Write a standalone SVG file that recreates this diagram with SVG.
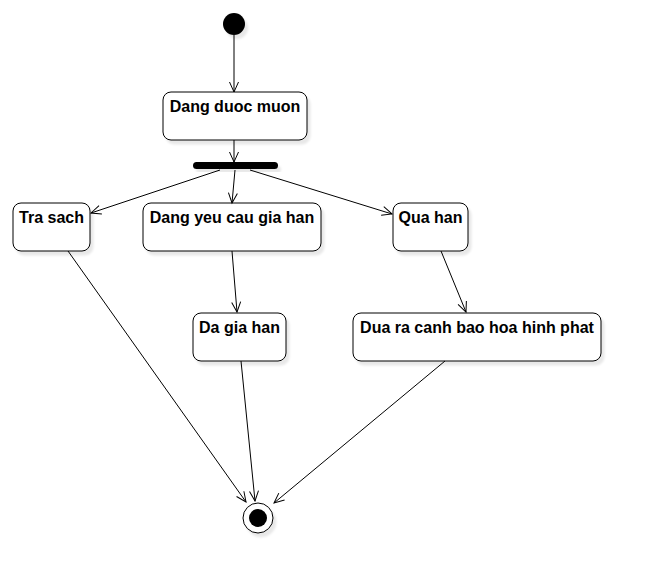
<svg xmlns="http://www.w3.org/2000/svg" width="650" height="583" viewBox="0 0 650 583">
<style>
.node rect.box{fill:#fff;stroke:#000;stroke-width:1}
.lbl{font-family:"Liberation Sans",Arial,sans-serif;font-size:16px;font-weight:bold;fill:#000;text-anchor:middle}
.edge{fill:none;stroke:#000;stroke-width:1}
</style>
<defs>
<filter id="sh" x="-20%" y="-20%" width="150%" height="150%">
<feDropShadow dx="3" dy="4" stdDeviation="0.8" flood-color="#000" flood-opacity="0.09"/>
</filter>
<marker id="arr" markerUnits="userSpaceOnUse" markerWidth="14" markerHeight="14" viewBox="-12 -7 14 14" refX="0" refY="0" orient="auto">
<path d="M-10,-4.5 L0,0 L-10,4.5" fill="none" stroke="#000" stroke-width="1"/>
</marker>
</defs>
<rect width="650" height="583" fill="#fff"/>
<g id="start" class="node"><circle cx="234" cy="24" r="11" fill="#000" filter="url(#sh)"/></g>
<g id="dang-duoc-muon" class="node"><rect class="box" x="163" y="92" width="144" height="48" rx="8" filter="url(#sh)"/><text class="lbl" x="235" y="112">Dang duoc muon</text></g>
<g id="fork" class="node"><rect x="193" y="162" width="85" height="7" rx="3.5" fill="#000" filter="url(#sh)"/></g>
<g id="tra-sach" class="node"><rect class="box" x="13" y="203" width="77" height="48" rx="8" filter="url(#sh)"/><text class="lbl" x="51.5" y="223">Tra sach</text></g>
<g id="dang-yeu-cau" class="node"><rect class="box" x="143" y="203" width="178" height="48" rx="8" filter="url(#sh)"/><text class="lbl" x="232" y="223">Dang yeu cau gia han</text></g>
<g id="qua-han" class="node"><rect class="box" x="393" y="203" width="75" height="48" rx="8" filter="url(#sh)"/><text class="lbl" x="430.5" y="223">Qua han</text></g>
<g id="da-gia-han" class="node"><rect class="box" x="193" y="313" width="93" height="48" rx="8" filter="url(#sh)"/><text class="lbl" x="239.5" y="333">Da gia han</text></g>
<g id="dua-ra" class="node"><rect class="box" x="353" y="313" width="248" height="48" rx="8" filter="url(#sh)"/><text class="lbl" x="477" y="333">Dua ra canh bao hoa hinh phat</text></g>
<g id="end" class="node"><circle cx="258" cy="518" r="15" fill="#fff" stroke="#000" stroke-width="1" filter="url(#sh)"/><circle cx="258" cy="518" r="9" fill="#000"/></g>
<g id="connectors">
<path class="edge" d="M234,35 L234,92" marker-end="url(#arr)"/>
<path class="edge" d="M234,140 L234,162" marker-end="url(#arr)"/>
<path class="edge" d="M220,170 L91,213" marker-end="url(#arr)"/>
<path class="edge" d="M235,170 L232,203" marker-end="url(#arr)"/>
<path class="edge" d="M250,170 L392,214" marker-end="url(#arr)"/>
<path class="edge" d="M232,251 L237,312" marker-end="url(#arr)"/>
<path class="edge" d="M441,251 L466,312" marker-end="url(#arr)"/>
<path class="edge" d="M68,251 L246,502" marker-end="url(#arr)"/>
<path class="edge" d="M241,361 L255,501" marker-end="url(#arr)"/>
<path class="edge" d="M445,361 L274,503" marker-end="url(#arr)"/>
</g>
</svg>
